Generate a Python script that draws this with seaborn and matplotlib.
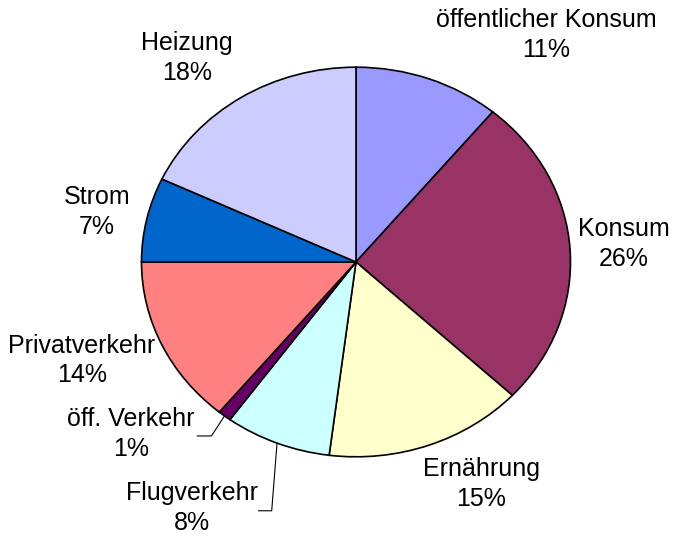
import numpy as np
import seaborn as sns
import matplotlib.pyplot as plt

# shares in percent, clockwise from 12 o'clock
categories = ['öffentlicher Konsum', 'Konsum', 'Ernährung', 'Flugverkehr',
              'öff. Verkehr', 'Privatverkehr', 'Strom', 'Heizung']
shares = [11, 26, 15, 8, 1, 14, 7, 18]

colors = ['#9999FF', '#993366', '#FFFFCC', '#CCFFFF',
          '#660066', '#FF8080', '#0066CC', '#CCCCFF']

# label centres (data units, pie radius = 1)
label_pos = [(0.888, 1.165), (1.249, 0.092), (0.583, -1.140), (-0.765, -1.263),
             (-1.049, -0.883), (-1.277, -0.506), (-1.207, 0.257), (-0.788, 1.047)]
# elbow points for leader lines of the small slices
leaders = {'Flugverkehr': [(-0.393, -1.277), (-0.455, -1.277)],
           'öff. Verkehr': [(-0.674, -0.893), (-0.741, -0.893)]}

sns.set_theme(style='white')
plt.rcParams['font.family'] = ['Liberation Sans', 'DejaVu Sans']

fig = plt.figure(figsize=(6.74, 5.36), dpi=100)
ax = fig.add_axes([0, 0, 1, 1])

wedges, _ = ax.pie(shares, colors=colors, startangle=90, counterclock=False,
                   wedgeprops=dict(edgecolor='black', linewidth=1.2))

# the original pie is slightly squashed vertically
ax.set_aspect('auto')
ax.set_xlim(-356 / 214.5, (674 - 356) / 214.5)
ax.set_ylim(-(536 - 262) / 194.8, 262 / 194.8)

for name, val, (lx, ly) in zip(categories, shares, label_pos):
    ax.text(lx, ly, f'{name}\n{val}%', ha='center', va='center',
            fontsize=18, color='black', linespacing=1.3)

for w, name in zip(wedges, categories):
    if name in leaders:
        mid = np.deg2rad((w.theta1 + w.theta2) / 2)
        pts = [(np.cos(mid), np.sin(mid))] + leaders[name]
        xs, ys = zip(*pts)
        ax.plot(xs, ys, color='black', linewidth=0.8)

fig.savefig('out.png', dpi=100)
